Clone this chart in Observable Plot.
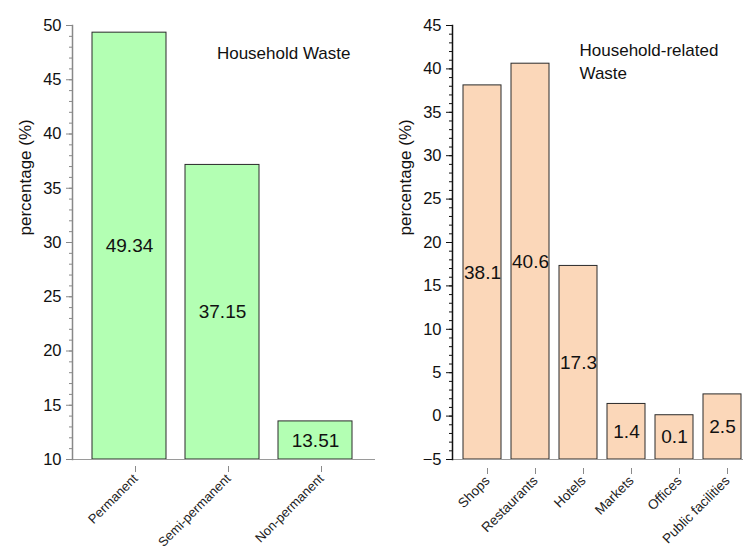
<!DOCTYPE html>
<html>
<head>
<meta charset="utf-8">
<script src="https://cdn.jsdelivr.net/npm/d3@7"></script>
<script src="https://cdn.jsdelivr.net/npm/@observablehq/plot@0.6"></script>
<style>
  html, body { margin: 0; padding: 0; background: #fff; }
  #wrap { position: relative; width: 743px; height: 550px; overflow: hidden; font-family: "Liberation Sans", Arial, sans-serif; }
  #left { position: absolute; left: 0; top: 0; }
  #right { position: absolute; left: 370px; top: 0; }
  svg { overflow: hidden; }
</style>
</head>
<body>
<div id="wrap"><div id="left"></div><div id="right"></div></div>
<script>
// ---- data ----
const householdCategories = ["Permanent", "Semi-permanent", "Non-permanent"];
const householdValues = [49.34, 37.15, 13.51];
const householdTitle = "Household Waste";
const householdTicks = [10, 15, 20, 25, 30, 35, 40, 45, 50];

const relatedCategories = ["Shops", "Restaurants", "Hotels", "Markets", "Offices", "Public facilities"];
const relatedValues = [38.1, 40.6, 17.3, 1.4, 0.1, 2.5];
const relatedTitle = "Household-related\nWaste";
const relatedTicks = [-5, 0, 5, 10, 15, 20, 25, 30, 35, 40, 45];

const yLabel = "percentage (%)";

const FONT = "Liberation Sans, Arial, sans-serif";

function panel({cats, vals, ticks, base, top, fill, axisColor, width, marginLeft, xRange, title, titleOpts, labelDx, xLabelOpts}) {
  const data = cats.map((c, i) => ({c, v: vals[i]}));
  const minor = d3.range(base, top + 1, 1);
  return Plot.plot({
    width, height: 550,
    marginTop: 25, marginBottom: 91, marginLeft, marginRight: 0,
    style: {fontFamily: FONT, background: "transparent", overflow: "hidden"},
    x: {domain: cats, range: xRange, padding: 0.2, label: null},
    y: {domain: [base, top], label: null},
    marks: [
      Plot.barY(data, {x: "c", y1: base, y2: "v", fill, stroke: "#2a2a2a", strokeWidth: 1}),
      Plot.text(data, {x: "c", y: d => (base + d.v) / 2, text: d => String(d.v), fontSize: 19, fill: "#111"}),
      Plot.ruleY([base], {stroke: "#9a9a9a", strokeWidth: 1.2}),
      Plot.axisY({ticks: minor, tickSize: 3, tickFormat: () => "", stroke: axisColor}),
      Plot.axisY({ticks, tickSize: 6, tickPadding: 5, fontSize: 16.5, fill: "#111", stroke: axisColor}),
      Plot.frame({anchor: "left", stroke: axisColor, strokeWidth: 1.5}),
      Plot.axisX({tickSize: 6, tickRotate: -45, tickPadding: 4, fill: "#222", stroke: "#8a8a8a", ...xLabelOpts}),
      Plot.text([yLabel], {frameAnchor: "left", rotate: -90, dx: labelDx, dy: -7, fontSize: 17, fill: "#111"}),
      Plot.text([title], {...titleOpts, fontSize: 17, fill: "#111"})
    ]
  });
}

document.getElementById("left").append(panel({
  cats: householdCategories, vals: householdValues, ticks: householdTicks,
  base: 10, top: 50, fill: "#b3ffb3", axisColor: "#888",
  width: 375, marginLeft: 72, xRange: [72, 372],
  title: householdTitle,
  titleOpts: {frameAnchor: "top-right", textAnchor: "end", lineAnchor: "middle", dx: -25, dy: 28},
  labelDx: -47,
  xLabelOpts: {dx: 6, dy: 7, fontSize: 13}
}));

document.getElementById("right").append(panel({
  cats: relatedCategories, vals: relatedValues, ticks: relatedTicks,
  base: -5, top: 45, fill: "#fbd7b9", axisColor: "#111",
  width: 373, marginLeft: 82, xRange: [82, 382],
  title: relatedTitle,
  titleOpts: {frameAnchor: "top-left", textAnchor: "start", lineAnchor: "top", dx: 127, dy: 14, lineHeight: 1.35},
  labelDx: -47,
  xLabelOpts: {dx: 5, dy: 9, fontSize: 13.5}
}));
</script>
</body>
</html>
